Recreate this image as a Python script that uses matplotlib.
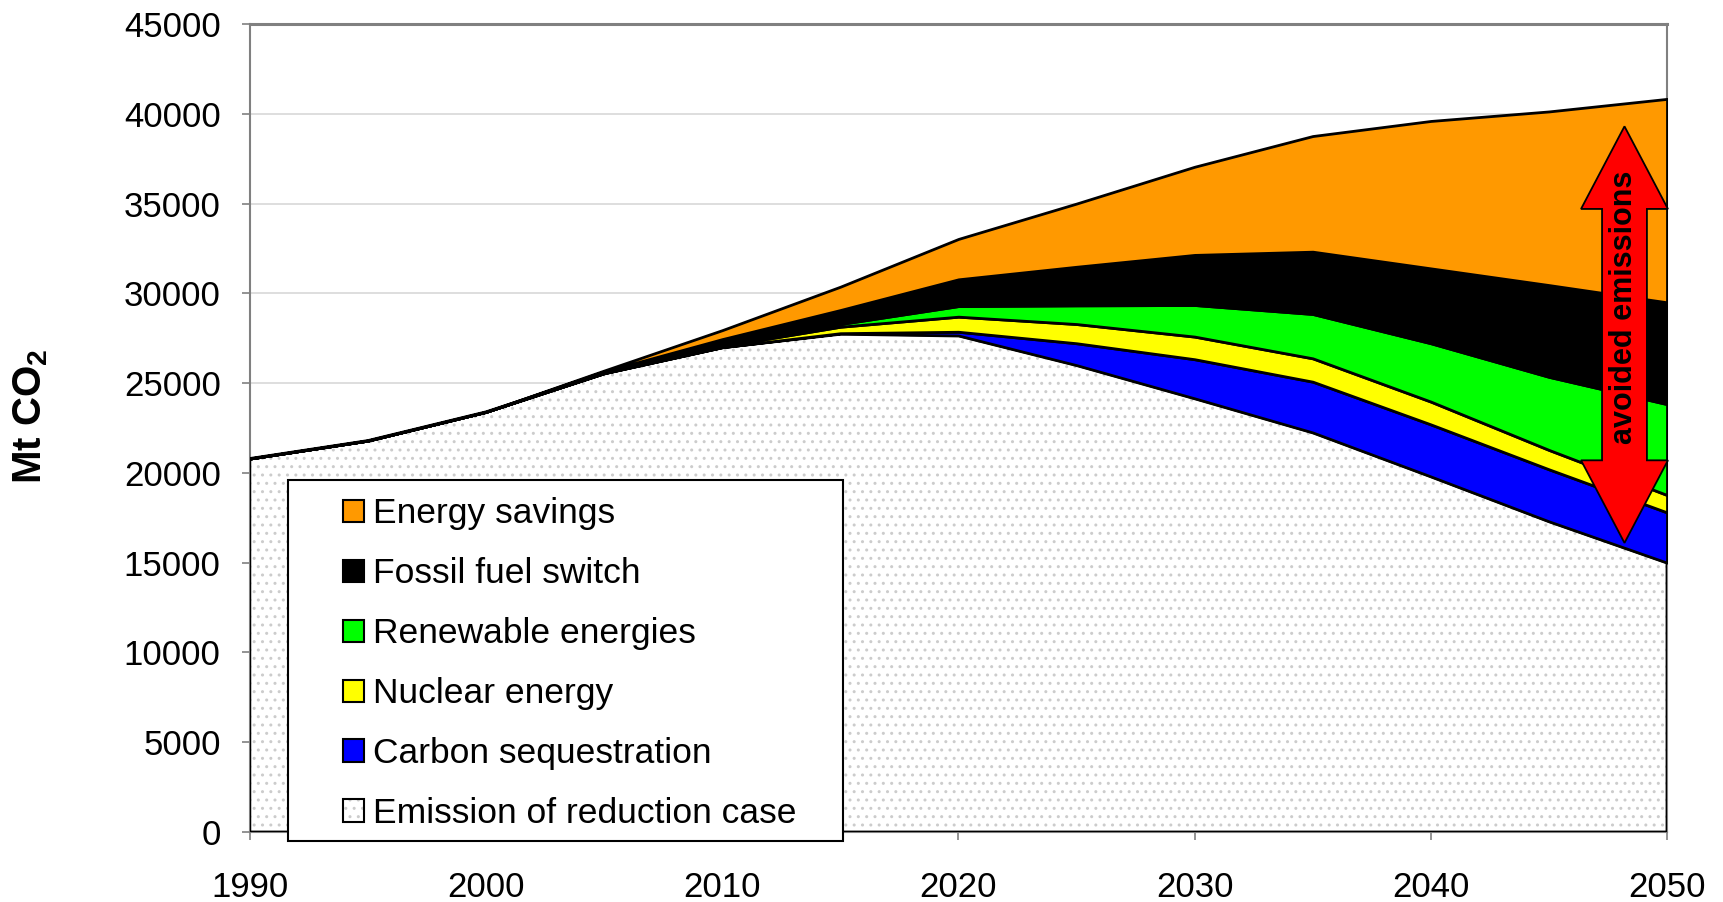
import matplotlib
matplotlib.use("Agg")
import matplotlib.pyplot as plt
from matplotlib.patches import Patch, Polygon, Rectangle
from matplotlib.legend_handler import HandlerTuple
import numpy as np

plt.rcParams['font.family'] = ['Liberation Sans', 'DejaVu Sans']
plt.rcParams['mathtext.fontset'] = 'custom'
plt.rcParams['mathtext.rm'] = 'Liberation Sans:bold'
plt.rcParams['mathtext.bf'] = 'Liberation Sans:bold'

# data (Mt CO2), stacked from bottom to top
years = [1990, 1995, 2000, 2005, 2010, 2015, 2020, 2025, 2030, 2035, 2040, 2045, 2050]
reduction_case = [20800, 21800, 23400, 25550, 27000, 27750, 27650, 26000, 24150, 22250, 19800, 17300, 15000]
carbon_seq = [0, 0, 0, 0, 0, 30, 210, 1220, 2180, 2830, 2900, 2900, 2800]
nuclear = [0, 0, 0, 10, 50, 360, 840, 1070, 1260, 1300, 1270, 1080, 970]
renewables = [0, 0, 0, 20, 50, 150, 590, 1040, 1760, 2470, 3250, 4070, 5060]
fossil_switch = [0, 0, 0, 70, 350, 780, 1490, 2150, 2790, 3470, 4170, 5110, 5670]
energy_savings = [0, 0, 0, 50, 500, 1300, 2250, 3520, 4910, 6440, 8210, 9670, 11330]

layer_names = ['Carbon sequestration', 'Nuclear energy', 'Renewable energies',
               'Fossil fuel switch', 'Energy savings']
layer_colors = ['#0000FF', '#FFFF00', '#00FF00', '#000000', '#FF9900']
xticks = [1990, 2000, 2010, 2020, 2030, 2040, 2050]
yticks = list(range(0, 45001, 5000))

fig = plt.figure(figsize=(17.23, 9.02), dpi=100)
ax = fig.add_axes([0.145, 0.0776, 0.8225, 0.8958])

base = np.array(reduction_case, dtype=float)
# dotted base area, then its outline
ax.fill_between(years, 0, base, facecolor='white', edgecolor='#cccccc',
                hatch='..', linewidth=0, zorder=2)
ax.fill_between(years, 0, base, facecolor='none', edgecolor='black',
                linewidth=2, zorder=3)

bottom = base.copy()
for vals, col in zip([carbon_seq, nuclear, renewables, fossil_switch, energy_savings], layer_colors):
    top = bottom + np.array(vals, dtype=float)
    ax.fill_between(years, bottom, top, facecolor=col, edgecolor='black',
                    linewidth=2, zorder=3)
    bottom = top

ax.set_xlim(1990, 2050)
ax.set_ylim(0, 45000)
ax.set_xticks(xticks, [str(v) for v in xticks])
ax.set_yticks(yticks, [str(v) for v in yticks])
ax.tick_params(direction='out', length=6, width=1.2, color='#808080',
               labelsize=25)
ax.tick_params(axis='x', pad=22)
ax.tick_params(axis='y', pad=15)
ax.yaxis.grid(True, color='#d8d8d8', linewidth=1.2)
ax.set_axisbelow(True)
for s in ax.spines.values():
    s.set_color('#808080')
    s.set_linewidth(1.5)
ax.spines['top'].set_linewidth(2.2)

fig.text(31 / 1723, 1 - 416 / 902, r'Mt CO$_{2}$', fontsize=29, fontweight='bold',
         rotation=90, ha='center', va='center')

# avoided emissions double arrow
cx, y_lo, y_hi = 2048.2, 16100, 39300
head_len, head_w, shaft_w = 4600, 1.84, 0.95
pts = [(cx, y_hi), (cx + head_w, y_hi - head_len), (cx + shaft_w, y_hi - head_len),
       (cx + shaft_w, y_lo + head_len), (cx + head_w, y_lo + head_len), (cx, y_lo),
       (cx - head_w, y_lo + head_len), (cx - shaft_w, y_lo + head_len),
       (cx - shaft_w, y_hi - head_len), (cx - head_w, y_hi - head_len)]
ax.add_patch(Polygon(pts, closed=True, facecolor='#FF0000', edgecolor='black',
                     linewidth=1.3, zorder=5, clip_on=False))
ax.text(cx, 29240, 'avoided emissions', rotation=90, ha='center', va='center',
        fontsize=22, fontweight='bold', zorder=6)

# legend box
ax.add_patch(Rectangle((0.0268, -0.011), 0.392, 0.447, transform=ax.transAxes,
                       facecolor='white', edgecolor='black', linewidth=1.5,
                       zorder=6, clip_on=False))
handles = [Patch(facecolor=c, edgecolor='black', linewidth=1.5)
           for c in layer_colors[::-1]]
handles.append((Patch(facecolor='white', edgecolor='#cccccc', hatch='..', linewidth=0),
                Patch(facecolor='none', edgecolor='black', linewidth=1.5)))
labels = layer_names[::-1] + ['Emission of reduction case']
leg = ax.legend(handles, labels, loc='upper left', bbox_to_anchor=(0.0656, 0.414),
                frameon=False, fontsize=25.5, handlelength=0.6, handleheight=0.6,
                handletextpad=0.25, labelspacing=0.76, borderpad=0, borderaxespad=0,
                handler_map={tuple: HandlerTuple(ndivide=1, pad=0)})
leg.set_zorder(7)

fig.savefig('out.png', dpi=100)
